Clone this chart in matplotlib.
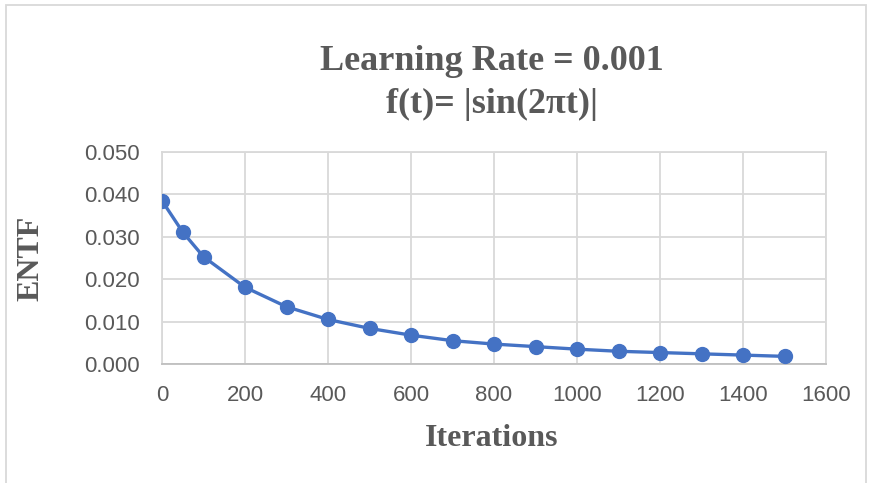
import numpy as np
import matplotlib.pyplot as plt
from matplotlib.patches import Rectangle

iterations = [0, 50, 100, 200, 300, 400, 500, 600, 700, 800, 900, 1000, 1100, 1200, 1300, 1400, 1500]
entf = [0.0385, 0.0311, 0.0253, 0.0181, 0.0135, 0.0105, 0.0084, 0.0068, 0.0055,
        0.0047, 0.0041, 0.0035, 0.0030, 0.0027, 0.0024, 0.0021, 0.0018]
x_ticks = [0, 200, 400, 600, 800, 1000, 1200, 1400, 1600]
y_ticks = [0.0, 0.01, 0.02, 0.03, 0.04, 0.05]

grey = '#595959'
W, H = 869, 483

fig = plt.figure(figsize=(W / 100, H / 100), dpi=100)
ax = fig.add_axes([162 / W, 1 - 364 / H, (826 - 162) / W, (364 - 152) / H])

ax.plot(iterations, entf, color='#4472C4', lw=2.4, marker='o', ms=10, zorder=3)

ax.set_xlim(0, 1600)
ax.set_ylim(0, 0.05)
ax.set_xticks(x_ticks)
ax.set_yticks(y_ticks)
ax.set_yticklabels(['%.3f' % v for v in y_ticks])
ax.grid(True, color='#d9d9d9', lw=1.3)
ax.set_axisbelow(True)
for s in ax.spines.values():
    s.set_color('#d9d9d9')
    s.set_linewidth(1.3)
ax.spines['bottom'].set_color('#bfbfbf')
ax.tick_params(length=0, colors=grey, labelsize=16)
ax.tick_params(axis='x', pad=15)
ax.tick_params(axis='y', pad=16)
for lab in ax.get_xticklabels() + ax.get_yticklabels():
    lab.set_family('Liberation Sans')

serif = dict(family='Liberation Serif', weight='bold', color=grey)
fig.text(492 / W, 1 - 61 / H, 'Learning Rate = 0.001', ha='center', va='center', fontsize=26, **serif)
fig.text(492 / W, 1 - 104 / H, 'f(t)= |sin(2\u03c0t)|', ha='center', va='center', fontsize=26, **serif)
fig.text(492 / W, 1 - 438 / H, 'Iterations', ha='center', va='center', fontsize=23, **serif)
fig.text(31 / W, 1 - 258 / H, 'ENTF', ha='center', va='center', rotation=90, fontsize=23, **serif)

# chart border
fig.patches.append(Rectangle((6 / W, -0.1), (866 - 6) / W, 1.1 - 5 / H,
                             transform=fig.transFigure, fill=False,
                             edgecolor='#d9d9d9', lw=1.3))

fig.savefig('out.png', dpi=100)
